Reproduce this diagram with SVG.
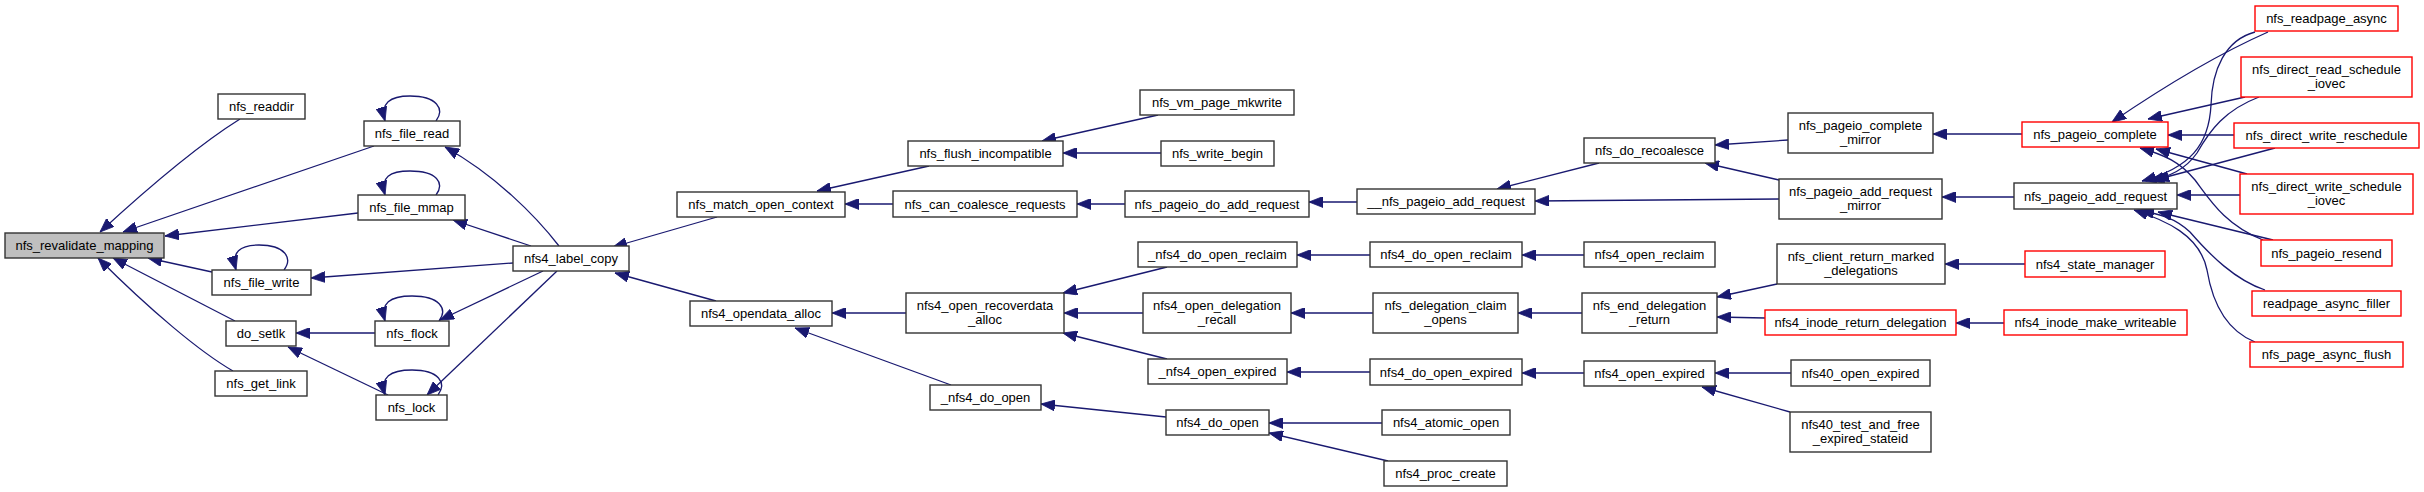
<svg xmlns="http://www.w3.org/2000/svg" width="2424" height="492" viewBox="0 0 2424 492">
<style>
.n rect{fill:#ffffff;stroke:#333333;stroke-width:1.4}
.n.root rect{fill:#bfbfbf}
.n.trunc rect{stroke:#ff0000}
.n text{font-family:"Liberation Sans",Arial,sans-serif;font-size:13px;fill:#000;text-anchor:middle}
#edges path{fill:none;stroke:#191970;stroke-width:1.3;marker-end:url(#ah)}
</style>
<defs>
<marker id="ah" markerUnits="userSpaceOnUse" markerWidth="14" markerHeight="11" viewBox="0 0 14 11" refX="14" refY="5.5" orient="auto">
<path d="M0,0 L14,5.5 L0,11 Z" fill="#191970" stroke="#191970" stroke-width="0.8"/>
</marker>
</defs>
<rect width="2424" height="492" fill="#ffffff"/>
<g id="edges">
<path d="M240,119 C200,144 150,186 100,232"/>
<path d="M374,146 L123,232"/>
<path d="M358,213 L165,236"/>
<path d="M212,272 L148,258"/>
<path d="M235,321 L113,258"/>
<path d="M233,371 C200,352 150,310 98,258"/>
<path d="M284,270 C293,258 285,245 259,245 C240,245 231,252 236,270"/>
<path d="M436,121 C445,109 437,96 410,96 C390,96 380,103 385,121"/>
<path d="M436,195 C445,183 437,171 410,171 C390,171 380,177 385,195"/>
<path d="M439,321 C448,309 440,296 412,296 C390,296 380,303 385,321"/>
<path d="M438,395 C447,383 439,370 412,370 C390,370 380,377 385,395"/>
<path d="M513,263 L311,278"/>
<path d="M375,333 L296,333"/>
<path d="M388,395 L288,347"/>
<path d="M559,246 C535,215 495,175 445,147"/>
<path d="M531,246 L453,220"/>
<path d="M543,271 L440,320"/>
<path d="M557,271 L427,395"/>
<path d="M717,217 L613,247"/>
<path d="M716,301 L615,273"/>
<path d="M929,166 L817,191"/>
<path d="M893,204 L845,204"/>
<path d="M906,313 L832,313"/>
<path d="M951,385 L795,328"/>
<path d="M1158,115 L1042,141"/>
<path d="M1161,153 L1063,153"/>
<path d="M1125,204 L1077,204"/>
<path d="M1357,202 L1309,202"/>
<path d="M1167,267 L1063,293"/>
<path d="M1143,313 L1064,313"/>
<path d="M1167,359 L1063,333"/>
<path d="M1166,417 L1041,404"/>
<path d="M1370,255 L1297,255"/>
<path d="M1373,313 L1291,313"/>
<path d="M1370,372 L1287,372"/>
<path d="M1382,423 L1269,423"/>
<path d="M1388,461 L1269,433"/>
<path d="M1599,163 L1497,189"/>
<path d="M1779,199 L1535,201"/>
<path d="M1584,255 L1522,255"/>
<path d="M1582,313 L1518,313"/>
<path d="M1584,373 L1522,373"/>
<path d="M1788,140 L1715,145"/>
<path d="M1779,180 L1705,163"/>
<path d="M1777,284 L1717,297"/>
<path d="M1765,318 L1717,317"/>
<path d="M1791,373 L1715,373"/>
<path d="M1790,412 L1702,387"/>
<path d="M2022,134 L1933,134"/>
<path d="M2014,197 L1942,197"/>
<path d="M2025,264 L1945,264"/>
<path d="M2004,323 L1956,323"/>
<path d="M2268,32 Q2200,62 2112,122"/>
<path d="M2255,32 C2225,40 2212,70 2211,105 C2209,145 2190,168 2142,181"/>
<path d="M2245,97 L2148,119"/>
<path d="M2259,97 C2225,110 2210,130 2197,153 C2185,170 2170,176 2150,181"/>
<path d="M2234,135 L2168,135"/>
<path d="M2275,148 L2155,180"/>
<path d="M2247,174 L2156,149"/>
<path d="M2240,195 L2177,195"/>
<path d="M2263,240 C2225,225 2210,200 2195,180 C2180,162 2165,155 2140,148"/>
<path d="M2273,240 L2158,212"/>
<path d="M2265,290 C2235,280 2210,255 2190,232 C2175,218 2160,214 2140,211"/>
<path d="M2255,342 C2225,330 2212,300 2207,270 C2200,235 2165,220 2134,210"/>
</g>
<g id="nfs_revalidate_mapping" class="n root"><rect x="5" y="233" width="159" height="25"/><text x="84.5" y="250">nfs_revalidate_mapping</text></g>
<g id="nfs_readdir" class="n"><rect x="218" y="94" width="87" height="25"/><text x="261.5" y="111">nfs_readdir</text></g>
<g id="nfs_file_write" class="n"><rect x="212" y="270" width="99" height="25"/><text x="261.5" y="287">nfs_file_write</text></g>
<g id="do_setlk" class="n"><rect x="226" y="321" width="70" height="25"/><text x="261" y="338">do_setlk</text></g>
<g id="nfs_get_link" class="n"><rect x="215" y="371" width="92" height="25"/><text x="261" y="388">nfs_get_link</text></g>
<g id="nfs_file_read" class="n"><rect x="364" y="121" width="96" height="25"/><text x="412" y="138">nfs_file_read</text></g>
<g id="nfs_file_mmap" class="n"><rect x="358" y="195" width="107" height="25"/><text x="411.5" y="212">nfs_file_mmap</text></g>
<g id="nfs4_label_copy" class="n"><rect x="513" y="246" width="116" height="25"/><text x="571" y="263">nfs4_label_copy</text></g>
<g id="nfs_flock" class="n"><rect x="375" y="321" width="74" height="25"/><text x="412" y="338">nfs_flock</text></g>
<g id="nfs_lock" class="n"><rect x="376" y="395" width="71" height="25"/><text x="411.5" y="412">nfs_lock</text></g>
<g id="nfs_match_open_context" class="n"><rect x="677" y="192" width="168" height="25"/><text x="761" y="209">nfs_match_open_context</text></g>
<g id="nfs_flush_incompatible" class="n"><rect x="908" y="141" width="155" height="25"/><text x="985.5" y="158">nfs_flush_incompatible</text></g>
<g id="nfs_can_coalesce_requests" class="n"><rect x="893" y="191" width="184" height="26"/><text x="985" y="208.5">nfs_can_coalesce_requests</text></g>
<g id="nfs4_opendata_alloc" class="n"><rect x="690" y="301" width="142" height="25"/><text x="761" y="318">nfs4_opendata_alloc</text></g>
<g id="nfs4_open_recoverdata_alloc" class="n"><rect x="906" y="293" width="158" height="40"/><text x="985" y="309.5">nfs4_open_recoverdata</text><text x="985" y="324">_alloc</text></g>
<g id="_nfs4_do_open" class="n"><rect x="930" y="385" width="111" height="25"/><text x="985.5" y="402">_nfs4_do_open</text></g>
<g id="nfs_vm_page_mkwrite" class="n"><rect x="1140" y="90" width="154" height="25"/><text x="1217" y="107">nfs_vm_page_mkwrite</text></g>
<g id="nfs_write_begin" class="n"><rect x="1161" y="141" width="113" height="25"/><text x="1217.5" y="158">nfs_write_begin</text></g>
<g id="nfs_pageio_do_add_request" class="n"><rect x="1125" y="191" width="184" height="26"/><text x="1217" y="208.5">nfs_pageio_do_add_request</text></g>
<g id="_nfs4_do_open_reclaim" class="n"><rect x="1138" y="242" width="159" height="25"/><text x="1217.5" y="259">_nfs4_do_open_reclaim</text></g>
<g id="nfs4_open_delegation_recall" class="n"><rect x="1143" y="293" width="148" height="40"/><text x="1217" y="309.5">nfs4_open_delegation</text><text x="1217" y="324">_recall</text></g>
<g id="_nfs4_open_expired" class="n"><rect x="1148" y="359" width="139" height="25"/><text x="1217.5" y="376">_nfs4_open_expired</text></g>
<g id="nfs4_do_open" class="n"><rect x="1166" y="410" width="103" height="25"/><text x="1217.5" y="427">nfs4_do_open</text></g>
<g id="__nfs_pageio_add_request" class="n"><rect x="1357" y="189" width="178" height="25"/><text x="1446" y="206">__nfs_pageio_add_request</text></g>
<g id="nfs4_do_open_reclaim" class="n"><rect x="1370" y="242" width="152" height="25"/><text x="1446" y="259">nfs4_do_open_reclaim</text></g>
<g id="nfs_delegation_claim_opens" class="n"><rect x="1373" y="293" width="145" height="40"/><text x="1445.5" y="309.5">nfs_delegation_claim</text><text x="1445.5" y="324">_opens</text></g>
<g id="nfs4_do_open_expired" class="n"><rect x="1370" y="359" width="152" height="26"/><text x="1446" y="376.5">nfs4_do_open_expired</text></g>
<g id="nfs4_atomic_open" class="n"><rect x="1382" y="410" width="128" height="25"/><text x="1446" y="427">nfs4_atomic_open</text></g>
<g id="nfs4_proc_create" class="n"><rect x="1384" y="461" width="123" height="25"/><text x="1445.5" y="478">nfs4_proc_create</text></g>
<g id="nfs_do_recoalesce" class="n"><rect x="1584" y="138" width="131" height="25"/><text x="1649.5" y="155">nfs_do_recoalesce</text></g>
<g id="nfs4_open_reclaim" class="n"><rect x="1584" y="242" width="131" height="25"/><text x="1649.5" y="259">nfs4_open_reclaim</text></g>
<g id="nfs_end_delegation_return" class="n"><rect x="1582" y="293" width="135" height="40"/><text x="1649.5" y="309.5">nfs_end_delegation</text><text x="1649.5" y="324">_return</text></g>
<g id="nfs4_open_expired" class="n"><rect x="1584" y="361" width="131" height="25"/><text x="1649.5" y="378">nfs4_open_expired</text></g>
<g id="nfs_pageio_complete_mirror" class="n"><rect x="1788" y="113" width="145" height="40"/><text x="1860.5" y="129.5">nfs_pageio_complete</text><text x="1860.5" y="144">_mirror</text></g>
<g id="nfs_pageio_add_request_mirror" class="n"><rect x="1779" y="179" width="163" height="40"/><text x="1860.5" y="195.5">nfs_pageio_add_request</text><text x="1860.5" y="210">_mirror</text></g>
<g id="nfs_client_return_marked_delegations" class="n"><rect x="1777" y="244" width="168" height="40"/><text x="1861" y="260.5">nfs_client_return_marked</text><text x="1861" y="275">_delegations</text></g>
<g id="nfs4_inode_return_delegation" class="n trunc"><rect x="1765" y="310" width="191" height="25"/><text x="1860.5" y="327">nfs4_inode_return_delegation</text></g>
<g id="nfs40_open_expired" class="n"><rect x="1791" y="360" width="139" height="26"/><text x="1860.5" y="377.5">nfs40_open_expired</text></g>
<g id="nfs40_test_and_free_expired_stateid" class="n"><rect x="1790" y="412" width="141" height="40"/><text x="1860.5" y="428.5">nfs40_test_and_free</text><text x="1860.5" y="443">_expired_stateid</text></g>
<g id="nfs_pageio_complete" class="n trunc"><rect x="2022" y="122" width="146" height="25"/><text x="2095" y="139">nfs_pageio_complete</text></g>
<g id="nfs_pageio_add_request" class="n"><rect x="2014" y="183" width="163" height="26"/><text x="2095.5" y="200.5">nfs_pageio_add_request</text></g>
<g id="nfs4_state_manager" class="n trunc"><rect x="2025" y="251" width="140" height="26"/><text x="2095" y="268.5">nfs4_state_manager</text></g>
<g id="nfs4_inode_make_writeable" class="n trunc"><rect x="2004" y="310" width="183" height="25"/><text x="2095.5" y="327">nfs4_inode_make_writeable</text></g>
<g id="nfs_readpage_async" class="n trunc"><rect x="2255" y="6" width="143" height="25"/><text x="2326.5" y="23">nfs_readpage_async</text></g>
<g id="nfs_direct_read_schedule_iovec" class="n trunc"><rect x="2241" y="57" width="171" height="40"/><text x="2326.5" y="73.5">nfs_direct_read_schedule</text><text x="2326.5" y="88">_iovec</text></g>
<g id="nfs_direct_write_reschedule" class="n trunc"><rect x="2234" y="123" width="185" height="25"/><text x="2326.5" y="140">nfs_direct_write_reschedule</text></g>
<g id="nfs_direct_write_schedule_iovec" class="n trunc"><rect x="2240" y="174" width="173" height="40"/><text x="2326.5" y="190.5">nfs_direct_write_schedule</text><text x="2326.5" y="205">_iovec</text></g>
<g id="nfs_pageio_resend" class="n trunc"><rect x="2261" y="240" width="131" height="26"/><text x="2326.5" y="257.5">nfs_pageio_resend</text></g>
<g id="readpage_async_filler" class="n trunc"><rect x="2252" y="291" width="149" height="25"/><text x="2326.5" y="308">readpage_async_filler</text></g>
<g id="nfs_page_async_flush" class="n trunc"><rect x="2250" y="342" width="153" height="25"/><text x="2326.5" y="359">nfs_page_async_flush</text></g>
</svg>
